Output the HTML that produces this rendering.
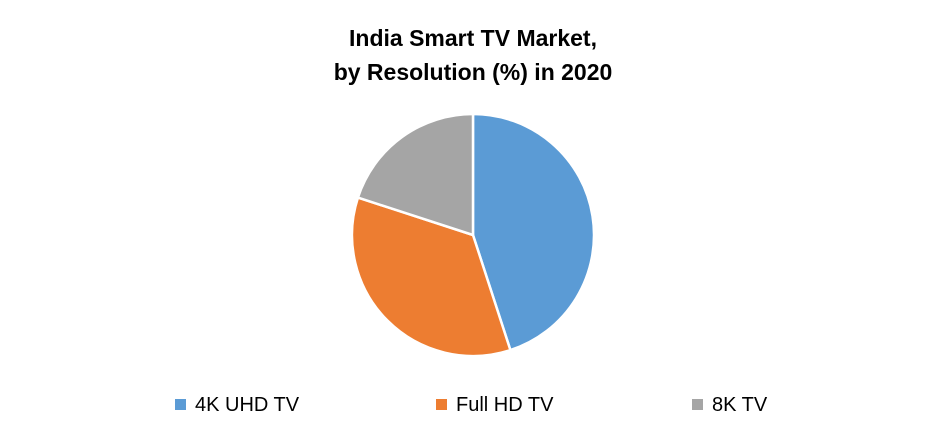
<!DOCTYPE html>
<html><head><meta charset="utf-8"><style>
body{margin:0;background:#fff;}
svg{display:block;font-family:"Liberation Sans",sans-serif;}
</style></head><body>
<svg id="chart" width="947" height="436">
<text x="473" y="46" text-anchor="middle" font-size="23" font-weight="bold" fill="#000">India Smart TV Market,</text>
<text x="473" y="80" text-anchor="middle" font-size="23" font-weight="bold" fill="#000">by Resolution (%) in 2020</text>
<g id="slices"></g>
<g id="legend"></g>
</svg>
<script>
const categories = ["4K UHD TV","Full HD TV","8K TV"];
const values = [45, 35, 20];
const colors = ["#5b9bd5","#ed7d31","#a5a5a5"];
const cx=473, cy=235, r=121;
const ns="http://www.w3.org/2000/svg";
const total=values.reduce((a,b)=>a+b,0);
let acc=0;
const g=document.getElementById('slices');
function pt(f){const a=f*2*Math.PI;return [cx+r*Math.sin(a), cy-r*Math.cos(a)];}
values.forEach((v,i)=>{
  const f0=acc/total, f1=(acc+v)/total; acc+=v;
  const [x0,y0]=pt(f0),[x1,y1]=pt(f1);
  const large=(f1-f0)>0.5?1:0;
  const p=document.createElementNS(ns,'path');
  p.setAttribute('d',`M${cx},${cy} L${x0},${y0} A${r},${r} 0 ${large} 1 ${x1},${y1} Z`);
  p.setAttribute('fill',colors[i]);
  p.setAttribute('stroke','#fff');
  p.setAttribute('stroke-width','2.5');
  
  
  g.appendChild(p);
});
const lg=document.getElementById('legend');
const lx=[175,436,692];
categories.forEach((c,i)=>{
  const e=document.createElementNS(ns,'g');
  
  
  const s=document.createElementNS(ns,'rect');
  s.setAttribute('x',lx[i]);s.setAttribute('y',399);s.setAttribute('width',11);s.setAttribute('height',11);
  s.setAttribute('fill',colors[i]);
  const t=document.createElementNS(ns,'text');
  t.setAttribute('x',lx[i]+20);t.setAttribute('y',411);t.setAttribute('font-size','20');t.setAttribute('fill','#000');
  t.textContent=c;
  e.appendChild(s);e.appendChild(t);lg.appendChild(e);
});
</script>
</body></html>
